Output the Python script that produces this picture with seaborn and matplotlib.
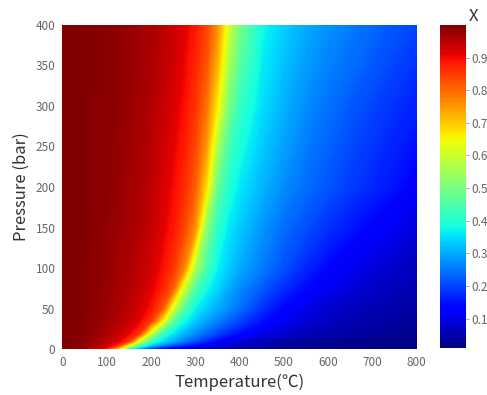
import numpy as np
import matplotlib
matplotlib.use("Agg")
import matplotlib.pyplot as plt
import seaborn as sns

# grid
temperature = [0, 50, 100, 125, 150, 175, 200, 225, 250, 275, 300, 325, 350,
               375, 400, 450, 500, 550, 600, 650, 700, 750, 800]
pressure = [0, 2, 5, 10, 20, 35, 50, 75, 100, 150, 200, 250, 300, 350, 400]

# X along each pressure row (one value per temperature above)
x_p0 = [1.0, 0.975, 0.87, 0.63, 0.38, 0.24, 0.16, 0.12, 0.09, 0.07, 0.055, 0.045, 0.038,
        0.032, 0.028, 0.022, 0.018, 0.015, 0.013, 0.012, 0.011, 0.01, 0.01]
x_p2 = [1.0, 0.98, 0.9, 0.76, 0.5, 0.33, 0.24, 0.18, 0.14, 0.11, 0.088, 0.072, 0.06,
        0.05, 0.043, 0.032, 0.025, 0.02, 0.017, 0.015, 0.013, 0.012, 0.011]
x_p5 = [1.0, 0.985, 0.93, 0.87, 0.65, 0.45, 0.34, 0.27, 0.22, 0.18, 0.145, 0.115, 0.095,
        0.078, 0.065, 0.046, 0.034, 0.027, 0.022, 0.019, 0.016, 0.014, 0.013]
x_p10 = [1.0, 0.99, 0.95, 0.92, 0.85, 0.6, 0.43, 0.35, 0.3, 0.25, 0.21, 0.17, 0.135,
         0.11, 0.09, 0.062, 0.046, 0.036, 0.03, 0.025, 0.021, 0.018, 0.016]
x_p20 = [1.0, 0.992, 0.96, 0.94, 0.91, 0.85, 0.61, 0.44, 0.36, 0.31, 0.27, 0.235, 0.2,
         0.17, 0.145, 0.105, 0.08, 0.062, 0.05, 0.042, 0.035, 0.03, 0.026]
x_p35 = [1.0, 0.993, 0.97, 0.955, 0.935, 0.905, 0.85, 0.67, 0.47, 0.38, 0.33, 0.29, 0.26,
         0.23, 0.2, 0.15, 0.11, 0.085, 0.068, 0.056, 0.047, 0.04, 0.034]
x_p50 = [1.0, 0.994, 0.975, 0.962, 0.945, 0.925, 0.89, 0.82, 0.61, 0.45, 0.37, 0.33, 0.3,
         0.27, 0.24, 0.18, 0.13, 0.1, 0.08, 0.065, 0.055, 0.047, 0.04]
x_p75 = [1.0, 0.995, 0.978, 0.968, 0.955, 0.938, 0.915, 0.875, 0.81, 0.6, 0.45, 0.38, 0.34,
         0.3, 0.27, 0.22, 0.175, 0.14, 0.11, 0.09, 0.075, 0.062, 0.052]
x_p100 = [1.0, 0.995, 0.98, 0.97, 0.96, 0.945, 0.925, 0.895, 0.855, 0.77, 0.56, 0.44, 0.37,
          0.33, 0.3, 0.255, 0.21, 0.17, 0.135, 0.11, 0.09, 0.075, 0.062]
x_p150 = [1.0, 0.996, 0.983, 0.975, 0.966, 0.955, 0.94, 0.915, 0.885, 0.84, 0.76, 0.52, 0.41,
          0.36, 0.33, 0.28, 0.24, 0.21, 0.18, 0.155, 0.13, 0.11, 0.09]
x_p200 = [1.0, 0.997, 0.985, 0.979, 0.97, 0.96, 0.945, 0.925, 0.9, 0.865, 0.81, 0.68, 0.48,
          0.4, 0.36, 0.31, 0.27, 0.24, 0.215, 0.19, 0.17, 0.15, 0.12]
x_p250 = [1.0, 0.997, 0.987, 0.981, 0.974, 0.964, 0.95, 0.933, 0.91, 0.88, 0.835, 0.75, 0.56,
          0.44, 0.39, 0.33, 0.29, 0.255, 0.23, 0.205, 0.185, 0.165, 0.145]
x_p300 = [1.0, 0.997, 0.988, 0.983, 0.976, 0.967, 0.955, 0.94, 0.92, 0.895, 0.855, 0.79, 0.66,
          0.5, 0.42, 0.35, 0.305, 0.27, 0.245, 0.22, 0.2, 0.18, 0.165]
x_p350 = [1.0, 0.998, 0.99, 0.985, 0.978, 0.97, 0.96, 0.945, 0.93, 0.905, 0.87, 0.82, 0.72,
          0.56, 0.46, 0.365, 0.32, 0.285, 0.26, 0.24, 0.22, 0.2, 0.18]
x_p400 = [1.0, 0.998, 0.99, 0.985, 0.98, 0.972, 0.962, 0.95, 0.935, 0.915, 0.885, 0.84, 0.76,
          0.61, 0.5, 0.38, 0.335, 0.3, 0.275, 0.255, 0.235, 0.215, 0.2]

cbar_ticks = [0.1, 0.2, 0.3, 0.4, 0.5, 0.6, 0.7, 0.8, 0.9]
xticks = [0, 100, 200, 300, 400, 500, 600, 700, 800]
yticks = [0, 50, 100, 150, 200, 250, 300, 350, 400]

sns.set_style("white")
plt.rcParams['font.family'] = ['Noto Sans CJK SC', 'DejaVu Sans']

X = np.array([x_p0, x_p2, x_p5, x_p10, x_p20, x_p35, x_p50, x_p75, x_p100,
              x_p150, x_p200, x_p250, x_p300, x_p350, x_p400])
TT, PP = np.meshgrid(temperature, pressure)

fig = plt.figure(figsize=(4.87, 3.95), dpi=100)
ax = fig.add_axes([0.128, 0.116, 0.728, 0.821])
cax = fig.add_axes([0.903, 0.119, 0.054, 0.818])

levels = np.linspace(0.0, 1.0, 301)
cs = ax.contourf(TT, PP, X, levels=levels, cmap='jet', vmin=0.01, vmax=1.0, antialiased=False)
cs.set_rasterized(True)
ax.set_xlim(0, 800)
ax.set_ylim(0, 400)
ax.set_xticks(xticks)
ax.set_yticks(yticks)
ax.tick_params(axis='both', length=0, pad=5, labelsize=8.5, labelcolor='#666666')
for s in ax.spines.values():
    s.set_visible(False)
ax.set_xlabel('Temperature(℃)', fontsize=12, color='#333333', labelpad=3)
ax.set_ylabel('Pressure (bar)', fontsize=12, color='#333333', labelpad=4)

sm = plt.cm.ScalarMappable(cmap='jet', norm=plt.Normalize(0.01, 1.0))
cb = fig.colorbar(sm, cax=cax)
cb.set_ticks(cbar_ticks)
cb.outline.set_visible(False)
cax.tick_params(length=2, width=0.6, color='#999999', labelsize=8.5, labelcolor='#666666', pad=2)
cax.set_title('X', fontsize=12, color='#333333', pad=3, loc='right', x=1.45)

fig.savefig('out.png', dpi=100)
